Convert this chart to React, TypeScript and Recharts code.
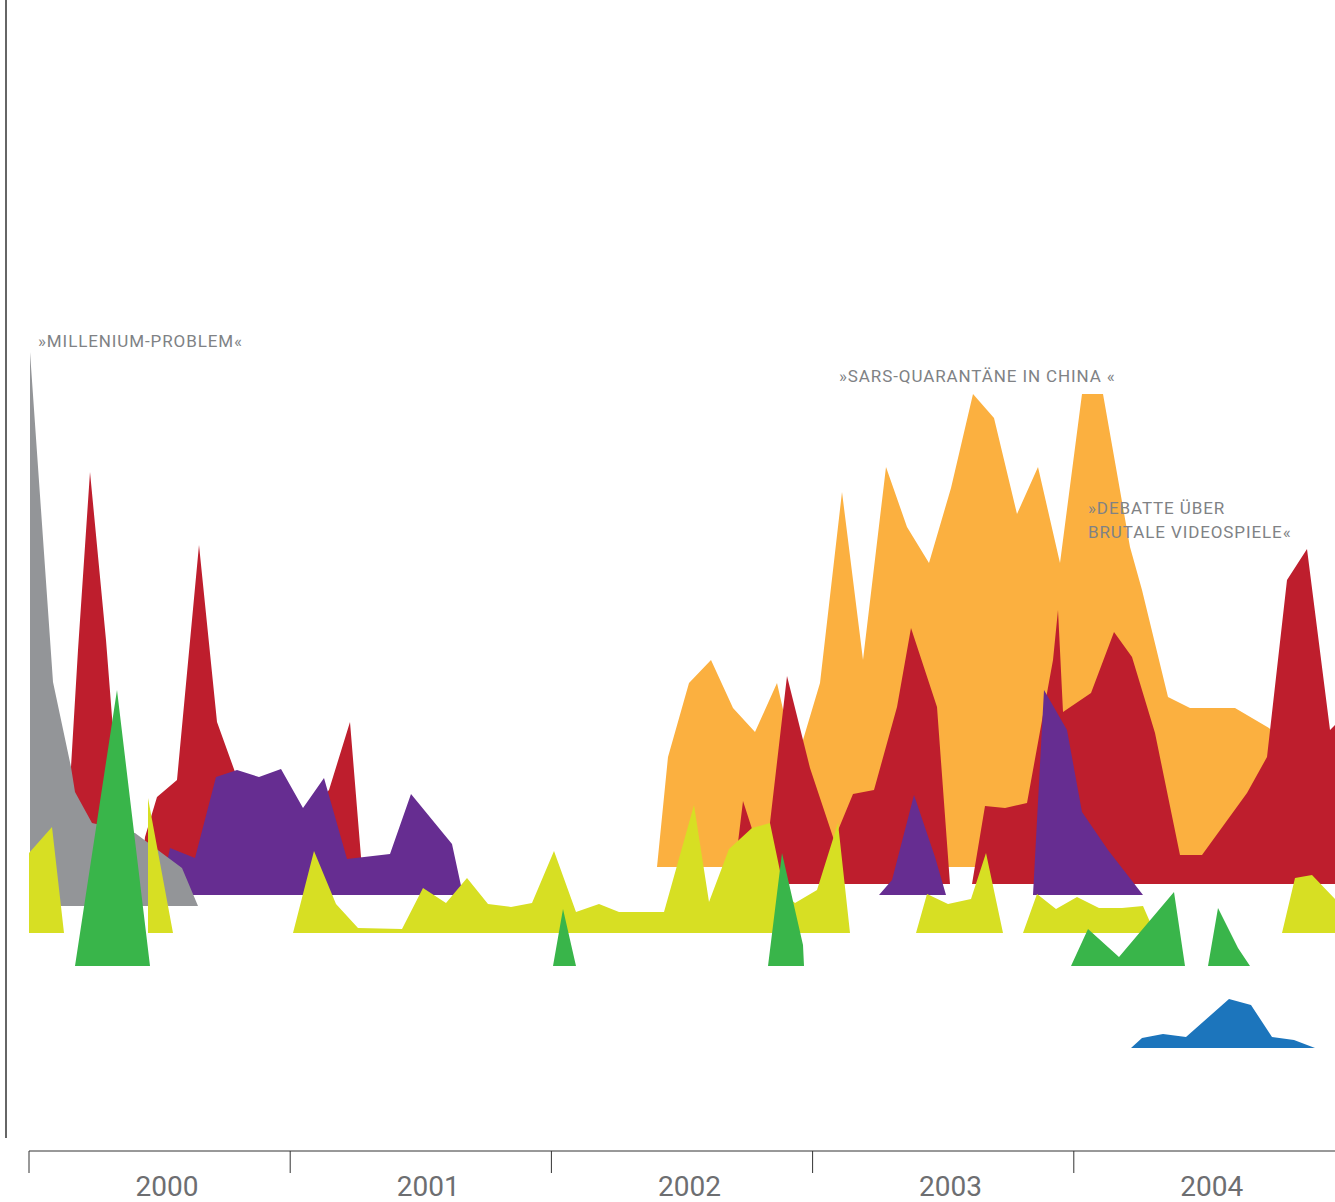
import React from 'react';
import { ComposedChart, Area, XAxis, YAxis } from 'recharts';

// x = weeks since 1 Jan 2000, h = height of the band above its own baseline
const GRAY_LEVEL = 245;
const RED_LEVEL = 267;
const PURPLE_LEVEL = 256;
const ORANGE_LEVEL = 284;
const YELLOW_LEVEL = 218;
const GREEN_LEVEL = 185;
const BLUE_LEVEL = 103;

const grayPts: [number, number][] = [
  [0.2, 0], [0.2, 554], [4.8, 224], [8.4, 139], [9.2, 114], [12.6, 83],
  [21.2, 73], [30.6, 38], [33.8, 0],
];

const redPts: [number, number][] = [
  [7.2, 0], [8.4, 117], [9.8, 234], [12.2, 412], [15.4, 244], [16.6, 167],
  [19.8, 0], [22.2, 0], [23.2, 47], [25.6, 87], [29.6, 104], [34, 339],
  [37.6, 162], [41.2, 112], [46.2, 84], [54.2, 64], [60, 94], [64.2, 162],
  [66.4, 27], [67.8, 0],
  [140.8, 0], [142.8, 83], [144.8, 52], [147.8, 44], [151.6, 208], [156.2, 116],
  [161, 44], [164.8, 90], [169, 94], [173.6, 177], [176.4, 256], [181.6, 177],
  [184.2, 0], [188.6, 0], [191.2, 78], [195.2, 76], [199.6, 81], [204.8, 224],
  [205.8, 274], [206.8, 172], [212.4, 191], [217, 252], [220.6, 227],
  [225.2, 151], [230.2, 29], [234.6, 29], [243.6, 91], [247.6, 127],
  [251.6, 304], [255.6, 335], [260.2, 154], [261.2, 159],
];

const purplePts: [number, number][] = [
  [26.2, 0], [28.2, 47], [33.2, 37], [37.4, 118], [41.6, 125], [46, 118],
  [50.4, 126], [54.8, 87], [59, 117], [63.6, 36], [72.2, 41], [76.4, 101],
  [84.6, 51], [86.8, 0],
  [170, 0], [172.6, 15], [177, 100], [181.2, 38], [183.4, 0],
  [200.8, 0], [203, 205], [207.6, 165], [210.6, 83], [215.8, 45], [222.8, 0],
];

const orangePts: [number, number][] = [
  [125.6, 0], [127.8, 110], [132, 184], [136.4, 207], [140.8, 159], [145.2, 135],
  [149.6, 184], [152.2, 127], [154.8, 127], [158.2, 184], [162.6, 375],
  [166.8, 207], [171.4, 400], [175.6, 340], [180, 304], [184.4, 379],
  [188.8, 473], [193, 449], [197.6, 353], [201.8, 400], [206.2, 304],
  [210.6, 473], [214.8, 473], [220.2, 320], [222.6, 277], [227.8, 170],
  [232.2, 159], [241.2, 159], [248, 139], [254.2, 107], [261.2, 87],
];

const yellowPts: [number, number][] = [
  [0, 0], [0, 80], [4.6, 106], [7, 0],
  [23.8, 0], [23.8, 135], [28.8, 0],
  [52.8, 0], [57, 82], [61.4, 29], [65.8, 5], [74.6, 4], [78.8, 45], [83.4, 30],
  [87.6, 55], [91.8, 29], [96.4, 26], [100.6, 30], [105, 82], [109.4, 21],
  [114, 29], [118, 21], [127, 21], [133, 128], [136, 31], [140, 84],
  [144.6, 105], [148.2, 110], [151.2, 38], [153.2, 30], [157.6, 43],
  [161.8, 110], [164.2, 0],
  [177.4, 0], [179.6, 39], [183.8, 29], [188.4, 34], [191.4, 80], [194.8, 0],
  [198.8, 0], [201.6, 39], [205.4, 24], [209.6, 36], [214, 25], [218.6, 25],
  [222.8, 27], [224.2, 11], [225.2, 0],
  [250.6, 0], [253.2, 55], [256.6, 58], [261.2, 34],
];

const greenPts: [number, number][] = [
  [9.2, 0], [17.6, 276], [24.2, 0],
  [104.8, 0], [106.8, 57], [109.4, 0],
  [147.8, 0], [150.6, 113], [154.8, 21], [155, 0],
  [208.4, 0], [211.8, 37], [218, 9], [229, 74], [231.2, 0],
  [235.8, 0], [237.8, 58], [241.8, 18], [244.2, 0],
];

const bluePts: [number, number][] = [
  [220.4, 0], [222.6, 10], [226.8, 14], [231.4, 11], [240, 49], [244.4, 43],
  [248.6, 11], [253, 8], [257.2, 0],
];

const YEARS = ['2000', '2001', '2002', '2003', '2004'];
const YEAR_TICKS = [0, 52.24, 104.48, 156.72, 208.96];

const toData = (pts: [number, number][], level: number) =>
  pts.map(([w, h]) => ({ w, v: [level, level + h] }));

const bands = [
  { name: 'orange', color: '#fbb040', data: toData(orangePts, ORANGE_LEVEL) },
  { name: 'red', color: '#be1e2d', data: toData(redPts, RED_LEVEL) },
  { name: 'purple', color: '#662d91', data: toData(purplePts, PURPLE_LEVEL) },
  { name: 'gray', color: '#939598', data: toData(grayPts, GRAY_LEVEL) },
  { name: 'yellow', color: '#d7df23', data: toData(yellowPts, YELLOW_LEVEL) },
  { name: 'green', color: '#39b54a', data: toData(greenPts, GREEN_LEVEL) },
  { name: 'blue', color: '#1c75bc', data: toData(bluePts, BLUE_LEVEL) },
];

const YearTick = ({ x, y, payload }: any) => {
  const idx = Math.round(payload.value / 52.24);
  return (
    <text x={x + 138} y={y + 21} textAnchor="middle" fill="#6d6e71"
      fontFamily="Roboto, sans-serif" fontSize={28}>
      {YEARS[idx]}
    </text>
  );
};

const noteStyle = { fontFamily: 'Roboto, sans-serif', fontSize: 17, fill: '#808285', letterSpacing: 0.9 };

export default function App() {
  return (
    <div style={{ position: 'absolute', left: 0, top: 0, width: 1335, height: 1202, background: '#fff' }}>
      <div style={{ position: 'absolute', left: 5, top: 0, width: 2, height: 1138, background: '#666' }} />
      <ComposedChart width={1335} height={1202} margin={{ top: 0, right: 0, bottom: 0, left: 29 }}>
        <XAxis
          type="number"
          dataKey="w"
          domain={[0, 261.2]}
          allowDataOverflow
          ticks={YEAR_TICKS}
          interval={0}
          height={51}
          tickSize={22}
          stroke="#333"
          tick={<YearTick />}
        />
        <YAxis type="number" hide domain={[0, 1151]} allowDataOverflow />
        {bands.map(b => (
          <Area
            key={b.name}
            data={b.data}
            dataKey="v"
            type="linear"
            stroke="none"
            fill={b.color}
            fillOpacity={1}
            dot={false}
            activeDot={false}
            isAnimationActive={false}
          />
        ))}
      </ComposedChart>
      <svg width={1335} height={1202} style={{ position: 'absolute', left: 0, top: 0, pointerEvents: 'none' }}>
        <text x={38} y={347} {...noteStyle}>»MILLENIUM-PROBLEM«</text>
        <text x={839} y={382} {...noteStyle}>»SARS-QUARANTÄNE IN CHINA «</text>
        <text x={1088} y={514} {...noteStyle}>»DEBATTE ÜBER</text>
        <text x={1088} y={538} {...noteStyle}>BRUTALE VIDEOSPIELE«</text>
      </svg>
    </div>
  );
}
